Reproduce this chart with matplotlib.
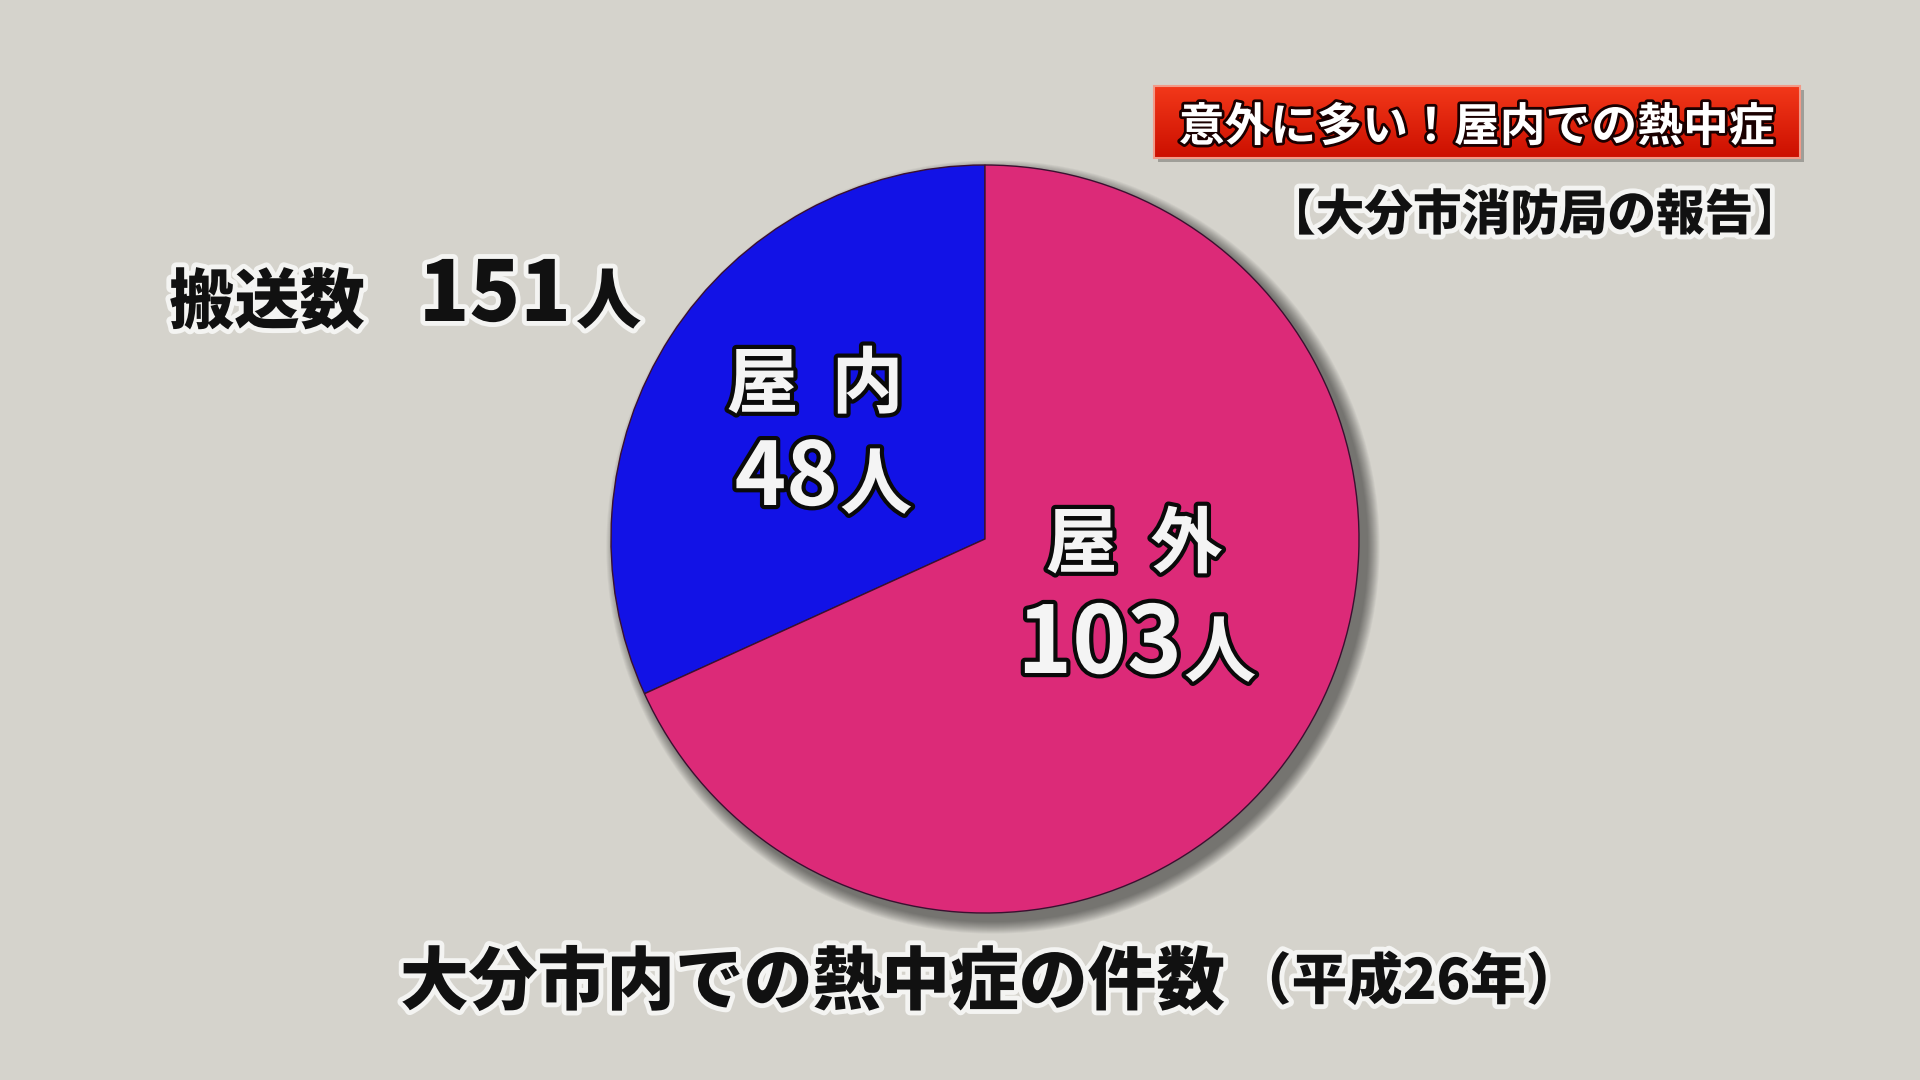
import matplotlib
matplotlib.use("Agg")
import matplotlib.pyplot as plt
import matplotlib.patheffects as pe
from matplotlib.patches import Circle, Rectangle
import numpy as np

# ---- data ----
categories = ["屋内", "屋外"]
counts = [48, 103]
slice_colors = ["#1212e6", "#dc2a78"]
title_text = "意外に多い！屋内での熱中症"
source_text = "【大分市消防局の報告】"
total_label = "搬送数"
unit = "人"
footer_main = "大分市内での熱中症の件数"
footer_sub = "（平成26年）"

total = sum(counts)

JP = ["Noto Sans CJK JP", "DejaVu Sans"]
BG = "#d5d3cc"

fig = plt.figure(figsize=(19.2, 10.8), dpi=100)
fig.patch.set_facecolor(BG)
ax = fig.add_axes([0, 0, 1, 1])
ax.set_facecolor(BG)

cx, cy, R = 985, 539, 374

# soft drop shadow under the pie
for k in range(14):
    ax.add_patch(Circle((cx + 8, cy + 8), R + 1 + k * 0.9, facecolor="black",
                        edgecolor="none", alpha=0.04, zorder=1))

wedges, _ = ax.pie(counts, colors=slice_colors, startangle=-90, counterclock=False,
                   center=(cx, cy), radius=R,
                   wedgeprops=dict(edgecolor="#3a1030", linewidth=1.0, zorder=2))
for w in wedges:
    w.set_zorder(2)

# ---- title box ----
bx0, bx1, by0, by1 = 1154, 1800, 86, 158
ax.add_patch(Rectangle((bx0 + 4, by0 + 4), bx1 - bx0, by1 - by0, facecolor="black",
                       alpha=0.25, edgecolor="none", zorder=3))
grad = np.linspace(0, 1, 64).reshape(-1, 1)
top = np.array([0.95, 0.22, 0.10])
bot = np.array([0.80, 0.06, 0.0])
img = top * (1 - grad[..., None]) + bot * grad[..., None]
img = np.repeat(img, 4, axis=1)
ax.imshow(img, extent=[bx0, bx1, by1, by0], aspect="auto", zorder=4,
          interpolation="bilinear")
ax.add_patch(Rectangle((bx0, by0), bx1 - bx0, by1 - by0, facecolor="none",
                       edgecolor="#f29a88", linewidth=1.5, zorder=5))

ax.set_xlim(0, 1920)
ax.set_ylim(1080, 0)
ax.set_aspect("equal", adjustable="box")
ax.axis("off")

white_on_dark = [pe.withStroke(linewidth=4, foreground="#1a0000")]
ax.text((bx0 + bx1) / 2, 141, title_text, family=JP, fontsize=33, weight="bold",
        color="white", ha="center", va="baseline", zorder=6, path_effects=white_on_dark)

black_glow = [pe.withStroke(linewidth=7, foreground="#f4f4f2")]
ax.text(1802, 230, source_text, family=JP, fontsize=35, weight="heavy",
        color="#111111", ha="right", va="baseline", zorder=6, path_effects=black_glow)

# ---- total ----
ax.text(169, 323, total_label, family=JP, fontsize=47, weight="heavy",
        color="#111111", ha="left", va="baseline", zorder=6, path_effects=black_glow)
ax.text(571, 321, f"{total}", family=JP, fontsize=60, weight="heavy",
        color="#111111", ha="right", va="baseline", zorder=6, path_effects=black_glow)
ax.text(576, 323, unit, family=JP, fontsize=47, weight="heavy",
        color="#111111", ha="left", va="baseline", zorder=6, path_effects=black_glow)

# ---- slice labels ----
label_style = [pe.withStroke(linewidth=6, foreground="#0a0a0a")]
label_pos = [  # (name_x, name_base, split_x, num_base)
    (815, 407, 838, 505),
    (1134, 567, 1182, 673),
]
num_sizes = [63, 67]
for cat, val, (nx, nb, sx, vb), ns in zip(categories, counts, label_pos, num_sizes):
    ax.text(nx, nb, "  ".join(cat), family=JP, fontsize=52, weight="bold",
            color="#f4f4f4", ha="center", va="baseline", zorder=6, path_effects=label_style)
    ax.text(sx, vb, f"{val}", family=JP, fontsize=ns, weight="bold",
            color="#f4f4f4", ha="right", va="baseline", zorder=6, path_effects=label_style)
    ax.text(sx + 2, vb + 3, unit, family=JP, fontsize=52, weight="bold",
            color="#f4f4f4", ha="left", va="baseline", zorder=6, path_effects=label_style)

# ---- footer ----
ax.text(400, 1004, footer_main, family=JP, fontsize=49.5, weight="heavy",
        color="#111111", ha="left", va="baseline", zorder=6, path_effects=black_glow)
ax.text(1236, 999, footer_sub, family=JP, fontsize=40, weight="heavy",
        color="#111111", ha="left", va="baseline", zorder=6, path_effects=black_glow)

fig.savefig("out.png", dpi=100, facecolor=fig.get_facecolor())
